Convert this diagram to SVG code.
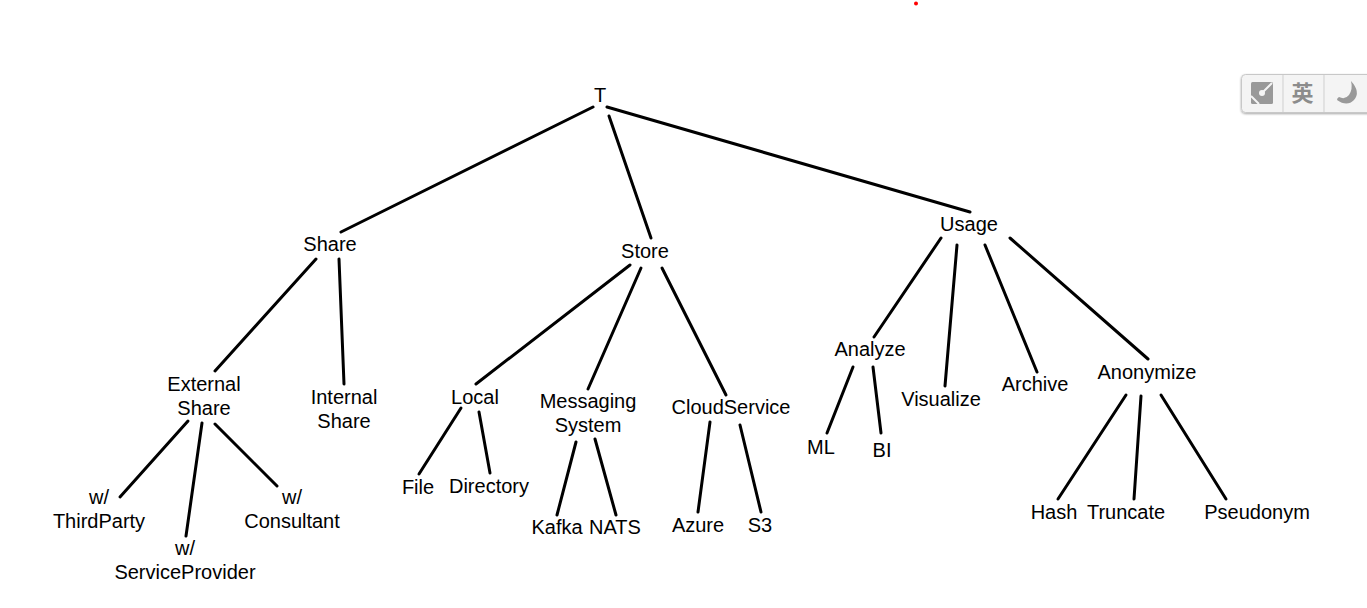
<svg xmlns="http://www.w3.org/2000/svg" width="1367" height="608" viewBox="0 0 1367 608">
<style>
text{font-family:"Liberation Sans",Arial,sans-serif;font-size:20px;fill:#000;text-anchor:middle}
#connectors line{stroke:#000;stroke-width:3;stroke-linecap:round}
#toolbar .ic{fill:#999}
#toolbar .cut{stroke:#f4f4f4;stroke-width:2;fill:none}
#toolbar .div{stroke:#cfcfcf;stroke-width:1}
#toolbar text{font-family:"Noto Sans CJK SC",sans-serif;font-size:22px;font-weight:700;fill:#8c8c8c}
</style>
<defs><filter id="sh" x="-5%" y="-10%" width="110%" height="125%"><feDropShadow dx="0" dy="1" stdDeviation="1" flood-color="#000" flood-opacity="0.35"/></filter></defs>
<rect width="1367" height="608" fill="#fff"/>
<circle cx="916" cy="3.4" r="2" fill="#f00"/>
<g id="toolbar">
<rect x="1241.500" y="74.500" width="140" height="38" rx="4" fill="#f4f4f4" stroke="#c8c8c8" filter="url(#sh)"/>
<line class="div" x1="1283" y1="75" x2="1283" y2="112"/>
<line class="div" x1="1324" y1="75" x2="1324" y2="112"/>
<rect class="ic" x="1251" y="82" width="22" height="22" rx="1.500"/>
<path class="cut" d="M1262 93 1272 83M1251 96 1259 104"/>
<circle cx="1262" cy="93" r="3" fill="#f4f4f4"/>
<text x="1302.500" y="100.500">英</text>
<path class="ic" d="M1351 81Q1361 92 1354 100 1347 107 1337 100 1337 98 1339 97 1345 100 1349 95 1353 89 1351 81Z"/>
</g>
<g id="connectors">
<line x1="593" y1="107" x2="341" y2="232"/>
<line x1="609" y1="116" x2="651" y2="238"/>
<line x1="607" y1="107" x2="970" y2="212"/>
<line x1="316" y1="259" x2="215" y2="371"/>
<line x1="339" y1="259" x2="344" y2="384"/>
<line x1="630" y1="265" x2="476" y2="384"/>
<line x1="641" y1="268" x2="588" y2="389"/>
<line x1="662" y1="268" x2="726" y2="395"/>
<line x1="941" y1="238" x2="874" y2="337"/>
<line x1="957" y1="245" x2="945" y2="386"/>
<line x1="985" y1="245" x2="1037" y2="372"/>
<line x1="1010" y1="238" x2="1148" y2="359"/>
<line x1="188" y1="421" x2="120" y2="497"/>
<line x1="202" y1="423" x2="186" y2="536"/>
<line x1="215" y1="424" x2="277" y2="486"/>
<line x1="461" y1="408" x2="419" y2="474"/>
<line x1="479" y1="412" x2="490" y2="473"/>
<line x1="576" y1="442" x2="557" y2="515"/>
<line x1="595" y1="439" x2="616" y2="515"/>
<line x1="710" y1="422" x2="698" y2="512"/>
<line x1="740" y1="425" x2="761" y2="512"/>
<line x1="853" y1="367" x2="827" y2="433"/>
<line x1="873" y1="367" x2="881" y2="433"/>
<line x1="1126" y1="395" x2="1058" y2="499"/>
<line x1="1141" y1="396" x2="1134" y2="499"/>
<line x1="1161" y1="395" x2="1226" y2="499"/>
</g>
<g id="n-t"><text x="600" y="102">T</text></g>
<g id="n-share"><text x="330" y="251">Share</text></g>
<g id="n-store"><text x="645" y="258">Store</text></g>
<g id="n-usage"><text x="969" y="231">Usage</text></g>
<g id="n-external"><text x="204" y="391">External</text><text x="204" y="415">Share</text></g>
<g id="n-internal"><text x="344" y="404">Internal</text><text x="344" y="428">Share</text></g>
<g id="n-local"><text x="475" y="404">Local</text></g>
<g id="n-messaging"><text x="588" y="408">Messaging</text><text x="588" y="432">System</text></g>
<g id="n-cloud"><text x="731" y="414">CloudService</text></g>
<g id="n-analyze"><text x="870" y="356">Analyze</text></g>
<g id="n-visualize"><text x="941" y="406">Visualize</text></g>
<g id="n-archive"><text x="1035" y="391">Archive</text></g>
<g id="n-anonymize"><text x="1147" y="379">Anonymize</text></g>
<g id="n-thirdparty"><text x="99" y="504">w/</text><text x="99" y="528">ThirdParty</text></g>
<g id="n-sp"><text x="185" y="555">w/</text><text x="185" y="579">ServiceProvider</text></g>
<g id="n-consultant"><text x="292" y="504">w/</text><text x="292" y="528">Consultant</text></g>
<g id="n-file"><text x="418" y="494">File</text></g>
<g id="n-directory"><text x="489" y="493">Directory</text></g>
<g id="n-kafka"><text x="557" y="534">Kafka</text></g>
<g id="n-nats"><text x="615" y="534">NATS</text></g>
<g id="n-azure"><text x="698" y="532">Azure</text></g>
<g id="n-s3"><text x="760" y="532">S3</text></g>
<g id="n-ml"><text x="821" y="454">ML</text></g>
<g id="n-bi"><text x="882" y="457">BI</text></g>
<g id="n-hash"><text x="1054" y="519">Hash</text></g>
<g id="n-truncate"><text x="1126" y="519">Truncate</text></g>
<g id="n-pseudonym"><text x="1257" y="519">Pseudonym</text></g>
</svg>
